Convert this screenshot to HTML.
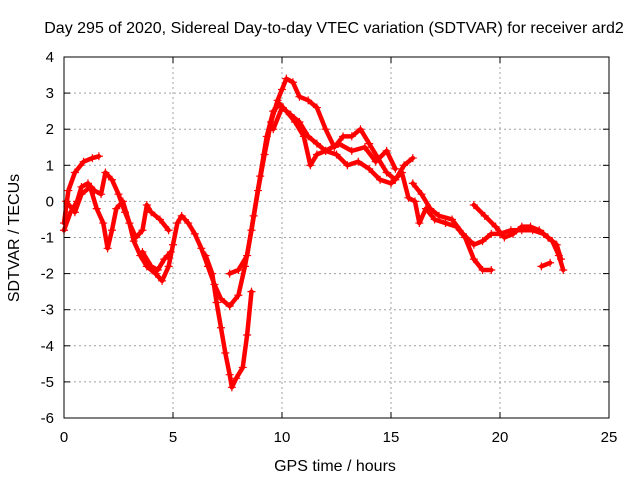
<!DOCTYPE html>
<html><head><meta charset="utf-8"><style>
body{margin:0;background:#fff}
svg text{font-family:"Liberation Sans",sans-serif;font-size:15px;fill:#000}
svg text.big{font-size:16px}
</style></head><body>
<svg id="chart" width="640" height="480"></svg>
<script>
const xTicks=[0,5,10,15,20,25];
const yTicks=[-6,-5,-4,-3,-2,-1,0,1,2,3,4];
const trackA=[[0,-0.6],[0.2,0.3],[0.5,0.8],[0.9,1.1],[1.3,1.2],[1.6,1.25]];
const trackB=[[0,-0.8],[0.3,-0.3],[0.6,0],[0.8,0.4],[1.1,0.5],[1.4,0.3],[1.7,0.2],[1.9,0.8],[2.2,0.6],[2.5,0.2],[2.8,-0.3],[3.0,-0.6],[3.2,-1.1],[3.5,-1.5],[3.8,-1.8],[4.2,-2.0],[4.5,-2.2],[4.8,-1.8],[5,-1.2],[5.2,-0.6],[5.4,-0.4],[5.7,-0.6],[6,-0.9],[6.3,-1.3],[6.6,-1.8],[6.9,-2.3],[7.2,-2.7],[7.6,-2.9],[8,-2.6],[8.3,-1.8],[8.6,-0.8],[8.9,0.3],[9.2,1.3],[9.5,2.2],[9.8,2.8],[10,3.1],[10.2,3.4],[10.5,3.3],[10.8,2.9],[11.2,2.8],[11.6,2.6],[12,2.0],[12.4,1.5],[12.8,1.8],[13.2,1.8],[13.6,2.0],[14,1.6],[14.4,1.2],[14.8,0.8],[15.2,0.6],[15.6,1.0],[16,1.2]];
const trackC=[[0.1,0],[0.5,-0.3],[0.8,0.2],[1.2,0.4],[1.5,-0.2],[1.8,-0.6],[2.0,-1.3],[2.2,-0.8],[2.4,-0.2],[2.7,0],[3,-0.6],[3.3,-1.0],[3.6,-0.8],[3.8,-0.1],[4,-0.3],[4.4,-0.5],[4.8,-0.8]];
const trackD=[[3.6,-1.4],[4.0,-1.8],[4.3,-1.9],[4.6,-1.6],[4.9,-1.4]];
const trackE=[[6.5,-1.5],[6.8,-2.0],[7.0,-2.8],[7.2,-3.5],[7.4,-4.2],[7.6,-4.8],[7.7,-5.15],[7.9,-4.9],[8.2,-4.6],[8.4,-3.7],[8.6,-2.5]];
const trackF=[[7.6,-2.0],[8,-1.9],[8.4,-1.5],[8.7,-0.4],[9,0.7],[9.3,1.8],[9.6,2.5],[9.9,2.7],[10.2,2.5],[10.6,2.2],[11,1.8],[11.3,1.0],[11.6,1.3],[12,1.4],[12.5,1.3],[13,1.0],[13.5,1.1],[14,0.9],[14.5,0.6],[15,0.5],[15.5,0.8],[15.8,0.1],[16.1,0],[16.3,-0.6],[16.6,-0.2],[17,-0.5],[17.5,-0.6],[18,-0.7],[18.4,-1.0],[18.8,-1.6],[19.2,-1.9],[19.6,-1.9]];
const trackG=[[9.6,2.0],[10,2.6],[10.4,2.4],[10.8,2.2],[11.2,1.8],[11.6,1.6],[12,1.4],[12.6,1.6],[13.2,1.4],[13.8,1.5],[14.3,1.1],[14.8,1.4],[15.2,0.9]];
const trackH=[[16,0.5],[16.4,0.2],[16.8,-0.2],[17.2,-0.4],[17.8,-0.5],[18.3,-0.9],[18.8,-1.2],[19.2,-1.1],[19.6,-0.9],[20,-0.9],[20.5,-0.8],[21,-0.8],[21.5,-0.8],[22,-0.9],[22.4,-1.1],[22.7,-1.5],[22.9,-1.9]];
const trackI=[[18.8,-0.1],[19.3,-0.4],[19.8,-0.7],[20.2,-1.0],[20.6,-0.9],[21,-0.7],[21.4,-0.7],[21.8,-0.8],[22.2,-1.0],[22.6,-1.2],[22.8,-1.6]];
const trackJ=[[21.9,-1.8],[22.3,-1.7]];
const tracks=[trackA,trackB,trackC,trackD,trackE,trackF,trackG,trackH,trackI,trackJ];

const L=64,R=609,T=57,B=418,xMin=0,xMax=25,yMin=-6,yMax=4;
const sx=v=>L+(v-xMin)/(xMax-xMin)*(R-L);
const sy=v=>B-(v-yMin)/(yMax-yMin)*(B-T);
const svg=document.getElementById('chart');
const NS='http://www.w3.org/2000/svg';
function mk(tag,attrs,parent){const e=document.createElementNS(NS,tag);for(const k in attrs)e.setAttribute(k,attrs[k]);(parent||svg).appendChild(e);return e;}

const grid=mk('g',{});


xTicks.forEach(t=>{
  if(t>xMin&&t<xMax) mk('line',{x1:sx(t),x2:sx(t),y1:T,y2:B,stroke:'#a0a0a0','stroke-dasharray':'2,3','stroke-width':1},grid);
  mk('line',{x1:sx(t),x2:sx(t),y1:B,y2:B-6,stroke:'#000'},grid);
  mk('line',{x1:sx(t),x2:sx(t),y1:T,y2:T+6,stroke:'#000'},grid);
  const tx=mk('text',{x:sx(t),y:B+24,'text-anchor':'middle'});
  
  
  tx.textContent=t;
});
yTicks.forEach(t=>{
  if(t>yMin&&t<yMax) mk('line',{x1:L,x2:R,y1:sy(t),y2:sy(t),stroke:'#a0a0a0','stroke-dasharray':'2,3','stroke-width':1},grid);
  mk('line',{x1:L,x2:L+6,y1:sy(t),y2:sy(t),stroke:'#000'},grid);
  mk('line',{x1:R,x2:R-6,y1:sy(t),y2:sy(t),stroke:'#000'},grid);
  const tx=mk('text',{x:L-10,y:sy(t)+5,'text-anchor':'end'});
  
  
  tx.textContent=t;
});

const series=mk('g',{});


tracks.forEach(tr=>{
  const p=mk('polyline',{points:tr.map(d=>sx(d[0])+','+sy(d[1])).join(' '),fill:'none',stroke:'#ff0000','stroke-width':4.5,'stroke-linejoin':'round','stroke-linecap':'round'},series);
  
  
  tr.forEach(d=>{
    const x=sx(d[0]),y=sy(d[1]);
    const m=mk('path',{d:`M${x-4},${y}H${x+4}M${x},${y-4}V${y+4}`,stroke:'#ff0000','stroke-width':1.2},series);
    
    
  });
});

const frame=mk('rect',{x:L,y:T,width:R-L,height:B-T,fill:'none',stroke:'#000'});



const title=mk('text',{x:334,y:33,'text-anchor':'middle','class':'big'});


title.textContent='Day 295 of 2020, Sidereal Day-to-day VTEC variation (SDTVAR) for receiver ard2';
const xt=mk('text',{x:335,y:471,'text-anchor':'middle','class':'big'});


xt.textContent='GPS time / hours';
const yt=mk('text',{x:0,y:0,'text-anchor':'middle','class':'big',transform:'translate(19,238) rotate(-90)'});


yt.textContent='SDTVAR / TECUs';
</script>
</body></html>
